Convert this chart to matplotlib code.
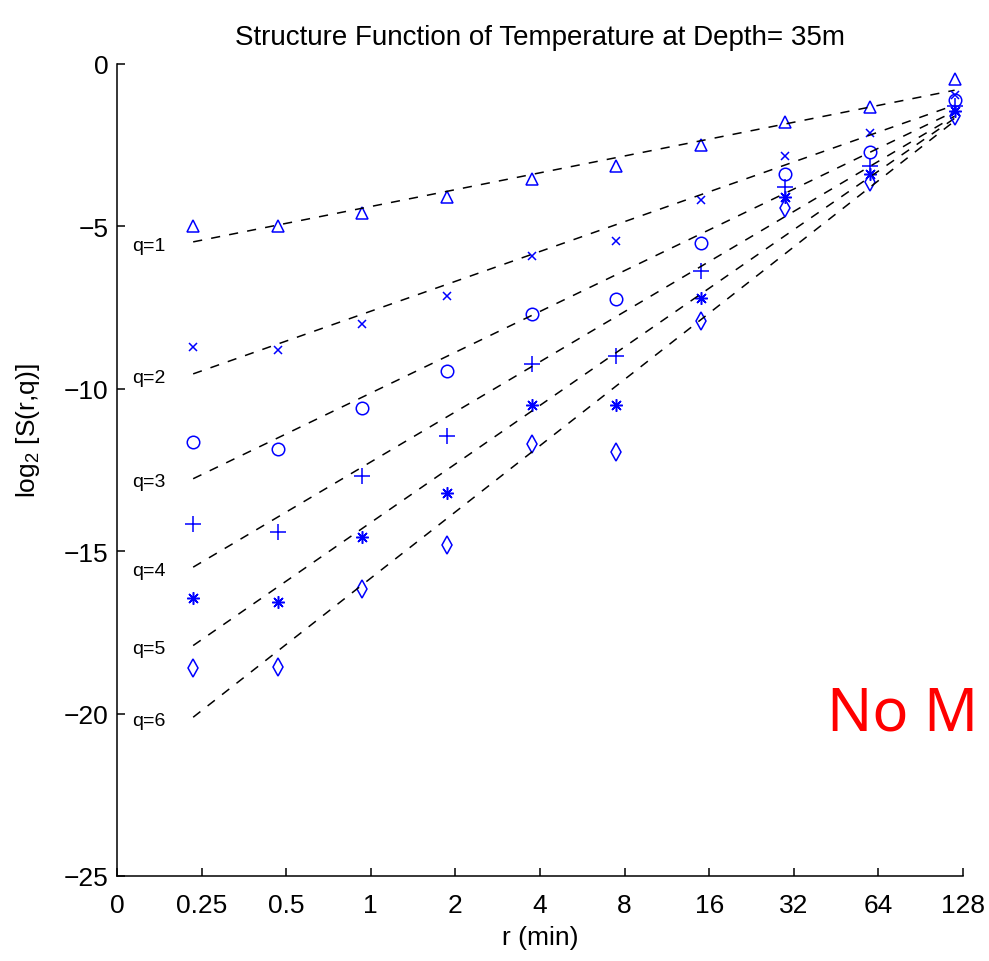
#!/usr/bin/env python3
import numpy as np
import matplotlib
matplotlib.use("Agg")
import matplotlib.pyplot as plt

# lag r in minutes (sampling every 14 s), tick labels of the log2 axis
lag_min = [0.2333, 0.4667, 0.9333, 1.867, 3.733, 7.467, 14.93, 29.87, 59.73, 119.5]
tick_labels = ["0", "0.25", "0.5", "1", "2", "4", "8", "16", "32", "64", "128"]

# log2 of the structure function for each order q
s_q1 = [-4.98, -5.0, -4.6, -4.1, -3.54, -3.13, -2.51, -1.79, -1.33, -0.46]
s_q2 = [-8.7, -8.8, -8.0, -7.13, -5.9, -5.44, -4.2, -2.82, -2.12, -0.95]
s_q3 = [-11.65, -11.85, -10.6, -9.44, -7.7, -7.23, -5.5, -3.4, -2.7, -1.1]
s_q4 = [-14.15, -14.4, -12.7, -11.45, -9.23, -8.98, -6.37, -3.8, -3.13, -1.3]
s_q5 = [-16.45, -16.57, -14.55, -13.2, -10.5, -10.5, -7.2, -4.1, -3.38, -1.45]
s_q6 = [-18.6, -18.57, -16.15, -14.8, -11.7, -11.95, -7.9, -4.45, -3.63, -1.6]

orders = ["q=1", "q=2", "q=3", "q=4", "q=5", "q=6"]
series = [s_q1, s_q2, s_q3, s_q4, s_q5, s_q6]
markers = ["^", "x", "o", "+", (8, 2, 0), "d"]
msizes = [9, 6, 9, 11, 9, 9]

plt.rcParams["font.family"] = ["Liberation Sans", "DejaVu Sans"]
plt.rcParams["mathtext.fontset"] = "custom"
plt.rcParams["mathtext.rm"] = "Liberation Sans"

fig = plt.figure(figsize=(9.89, 9.62), dpi=100)
ax = fig.add_axes([0.1183, 0.0884, 0.8554, 0.8441])

# axis position: 0 tick sits one octave below 0.25 min
x = np.log2(np.array(lag_min) / 0.125)

for label, s, m, ms in zip(orders, series, markers, msizes):
    s = np.array(s)
    ax.plot(x, s, linestyle="none", marker=m, markersize=ms,
            markerfacecolor="none", markeredgecolor="#0000ff",
            markeredgewidth=1.1, color="#0000ff")
    slope, icpt = np.polyfit(x, s, 1)
    ax.plot(x, slope * x + icpt, color="black", linewidth=1.1,
            dashes=(6, 6))
    ax.text(0.18, slope * x[0] + icpt - 0.1, label, ha="left", va="center",
            fontsize=14)

ax.set_xlim(0, 10)
ax.set_ylim(-25, 0)
ax.set_xticks(range(11))
ax.set_xticklabels(tick_labels)
ax.set_yticks([0, -5, -10, -15, -20, -25])
ax.set_yticklabels(["0", "\u22125", "\u221210", "\u221215", "\u221220", "\u221225"])

ax.spines["top"].set_visible(False)
ax.spines["right"].set_visible(False)
for sp in ("left", "bottom"):
    ax.spines[sp].set_linewidth(1.1)
ax.tick_params(direction="in", length=6, width=1.1, labelsize=19)
ax.tick_params(axis="x", pad=12)
ax.tick_params(axis="y", pad=6)

ax.set_title("Structure Function of Temperature at Depth= 35m",
             fontsize=20, pad=14)
ax.set_xlabel("r (min)", fontsize=19)
ax.set_ylabel("log$_2$ [S(r,q)]", fontsize=19)
ax.xaxis.set_label_coords(0.5, -0.06)
ax.yaxis.set_label_coords(-0.089, 0.55)

fig.text(0.836, 0.241, "No M", color="red", fontsize=43,
         family=["Noto Sans", "DejaVu Sans"], va="baseline", ha="left")

fig.savefig("out.png", dpi=100)
plt.close(fig)
